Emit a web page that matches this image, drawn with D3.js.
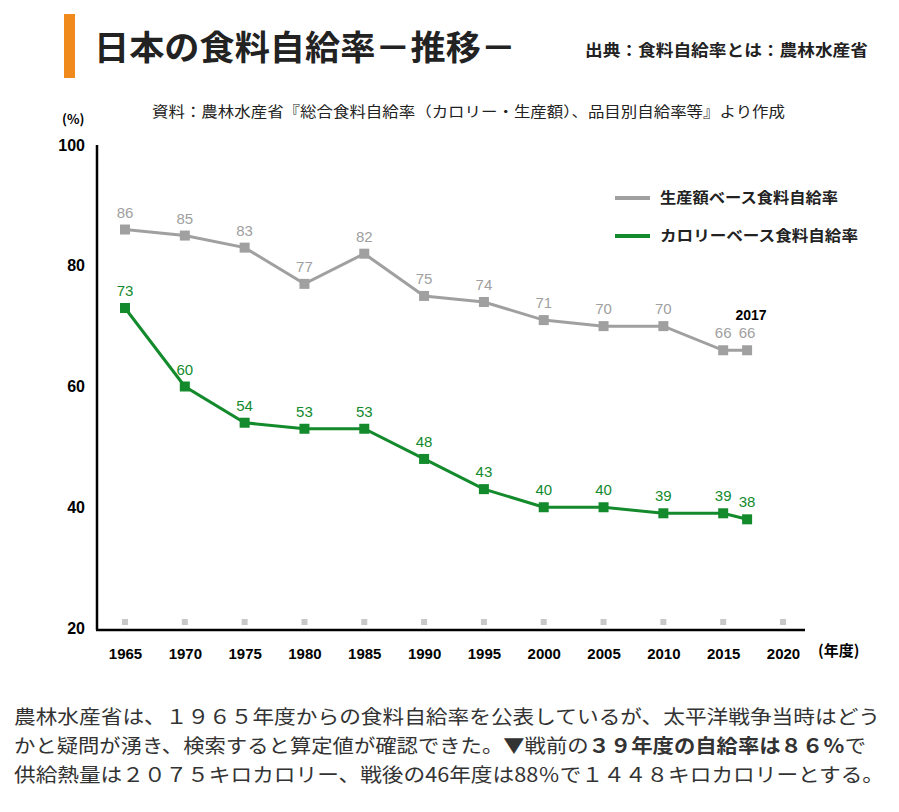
<!DOCTYPE html>
<html><head><meta charset="utf-8">
<script src="https://cdn.jsdelivr.net/npm/d3@7"></script>
<style>
body{margin:0;background:#fff;font-family:"Noto Sans CJK JP","Noto Sans",sans-serif;}
</style></head>
<body><svg></svg>
<script>
let years = [1965,1970,1975,1980,1985,1990,1995,2000,2005,2010,2015,2017]
let productionValues = [86,85,83,77,82,75,74,71,70,70,66,66]
let calorieValues = [73,60,54,53,53,48,43,40,40,39,39,38]
let xTicks = [1965,1970,1975,1980,1985,1990,1995,2000,2005,2010,2015,2020]
let yTicks = [20,40,60,80,100]
let seriesNames = ['生産額ベース食料自給率','カロリーベース食料自給率']

let width = 899, height = 812
let svg = d3.select('svg').attr('width', width).attr('height', height)
let font = '"Noto Sans CJK JP", sans-serif'

let xScale = d3.scaleLinear().domain([1965,2020]).range([125,783])
let yScale = d3.scaleLinear().domain([20,100]).range([628,145])

// title
svg.append('rect').attr('x',64).attr('y',14).attr('width',11).attr('height',64).attr('fill','#f08a1c')
svg.append('text').attr('x',94).attr('y',60).attr('font-size',34).attr('font-weight','bold')
  .attr('font-family',font).attr('fill','#222').attr('textLength',422).attr('lengthAdjust','spacingAndGlyphs')
  .text('日本の食料自給率－推移－')
svg.append('text').attr('x',585).attr('y',56).attr('font-size',16).attr('font-weight','bold')
  .attr('font-family',font).attr('fill','#222').attr('textLength',283).attr('lengthAdjust','spacingAndGlyphs')
  .text('出典：食料自給率とは：農林水産省')
svg.append('text').attr('x',152).attr('y',117).attr('font-size',14.5)
  .attr('font-family',font).attr('fill','#222').attr('textLength',633).attr('lengthAdjust','spacingAndGlyphs')
  .text('資料：農林水産省『総合食料自給率（カロリー・生産額）、品目別自給率等』より作成')
svg.append('text').attr('x',62).attr('y',124).attr('font-size',13).attr('font-weight','bold')
  .attr('font-family',font).text('(%)')

// axes
let yAxis = d3.axisLeft(yScale).tickValues(yTicks).tickSize(0).tickPadding(12)
svg.append('g').attr('transform','translate(97,0)').call(yAxis)
  .call(g => g.select('.domain').attr('stroke','#000').attr('stroke-width',2.5).attr('d','M0,145V630'))
  .call(g => g.selectAll('text').attr('font-size',16).attr('font-weight','bold').attr('font-family','Arial, sans-serif'))

let xAxis = d3.axisBottom(xScale).tickValues(xTicks).tickFormat(d3.format('d')).tickSize(0).tickPadding(18)
svg.append('g').attr('transform','translate(0,630)').call(xAxis)
  .call(g => g.select('.domain').attr('stroke','#000').attr('stroke-width',2.5).attr('d','M96,0H805'))
  .call(g => g.selectAll('text').attr('font-size',15).attr('font-weight','bold').attr('font-family','Arial, sans-serif'))
svg.append('text').attr('x',818).attr('y',656).attr('font-size',15).attr('font-weight','bold')
  .attr('font-family',font).text('(年度)')

svg.selectAll('.tickSq').data(xTicks).enter().append('rect')
  .attr('x',d => xScale(d)-3).attr('y',619).attr('width',6).attr('height',6).attr('fill','#c8c8c8')

// series
let line = d3.line().x((d,i) => xScale(years[i])).y(d => yScale(d))
let series = [
  {values: productionValues, color:'#a0a0a0'},
  {values: calorieValues, color:'#138a2c'}
]
series.forEach(s => {
  svg.append('path').datum(s.values).attr('d',line).attr('fill','none')
    .attr('stroke',s.color).attr('stroke-width',3)
  svg.selectAll(null).data(s.values).enter().append('rect')
    .attr('x',(d,i) => xScale(years[i])-5).attr('y',d => yScale(d)-5)
    .attr('width',10).attr('height',10).attr('fill',s.color)
  svg.selectAll(null).data(s.values).enter().append('text')
    .attr('x',(d,i) => xScale(years[i])).attr('y',d => yScale(d)-12)
    .attr('text-anchor','middle').attr('font-size',15).attr('font-family','Arial, sans-serif')
    .attr('fill',s.color).text(d => d)
})
svg.append('text').attr('x',xScale(2017)+4).attr('y',yScale(66)-30).attr('text-anchor','middle')
  .attr('font-size',14).attr('font-weight','bold').attr('font-family','Arial, sans-serif').text('2017')

// legend
let legendLen = [178,198]
seriesNames.forEach((n,i) => {
  let y = 198 + i*38
  svg.append('line').attr('x1',615).attr('x2',650).attr('y1',y).attr('y2',y)
    .attr('stroke',series[i].color).attr('stroke-width',4)
  svg.append('text').attr('x',660).attr('y',y+5).attr('font-size',15).attr('font-weight','bold')
    .attr('font-family',font).attr('fill','#222')
    .attr('textLength',legendLen[i]).attr('lengthAdjust','spacingAndGlyphs').text(n)
})

// bottom text
let lines = [
  [['農林水産省は、１９６５年度からの食料自給率を公表しているが、太平洋戦争当時はどう',false]],
  [['かと疑問が湧き、検索すると算定値が確認できた。▼戦前の',false],['３９年度の自給率は８６％',true],['で',false]],
  [['供給熱量は２０７５キロカロリー、戦後の46年度は88％で１４４８キロカロリーとする。',false]]
]
let lineLen = [866,852,870]
lines.forEach((l,i) => {
  let t = svg.append('text').attr('x',14).attr('y',724+i*29).attr('font-size',19.5)
    .attr('font-family',font).attr('fill','#333')
    .attr('textLength',lineLen[i]).attr('lengthAdjust','spacingAndGlyphs')
  l.forEach(p => t.append('tspan').attr('font-weight',p[1]?'bold':'normal').text(p[0]))
})
</script></body></html>
